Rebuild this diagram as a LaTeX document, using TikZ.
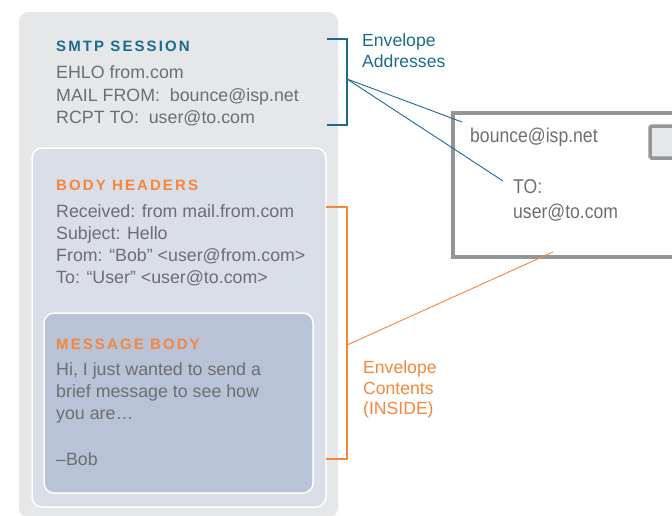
\documentclass[tikz,border=0pt]{standalone}
\usepackage{fontspec}
\setmainfont{Liberation Sans}
\newfontfamily\condfont[FakeStretch=0.88]{Liberation Sans}
\definecolor{outergray}{HTML}{E6E7E8}
\definecolor{headerbg}{HTML}{DADEE8}
\definecolor{msgbg}{HTML}{B8C3D7}
\definecolor{textgray}{HTML}{6D6E71}
\definecolor{smtpblue}{HTML}{1B6B8F}
\definecolor{bodyorange}{HTML}{F5863A}
\definecolor{envgray}{HTML}{939598}
\tikzset{
  txt/.style={anchor=base west, inner sep=0pt, text=textgray, font=\fontsize{17.8}{21}\selectfont},
  heading/.style={anchor=base west, inner sep=0pt, font=\fontsize{15}{18}\selectfont\bfseries\addfontfeatures{LetterSpace=14}},
  envtxt/.style={anchor=base west, inner sep=0pt, text=textgray, font=\fontsize{20}{23}\condfont},
  note/.style={anchor=base west, inner sep=0pt, font=\fontsize{17.6}{20}\selectfont},
  bracket/.style={line width=1.8pt},
  leader/.style={line width=0.9pt},
}
\begin{document}
\begin{tikzpicture}[x=1pt,y=-1pt]
\useasboundingbox (0,0) rectangle (672,515);

% nested message boxes
\fill[outergray, rounded corners=10pt] (19,12) rectangle (338,518);
\filldraw[fill=headerbg, draw=white, line width=1.5pt, rounded corners=10pt] (32,148) rectangle (326,507);
\filldraw[fill=msgbg, draw=white, line width=1.5pt, rounded corners=10pt] (44,313) rectangle (313,493);

% SMTP session
\node[heading, text=smtpblue] (smtp) at (56,51) {SMTP SESSION};
\node[txt] (ehlo) at (56,78) {EHLO from.com};
\node[txt] (mailfrom) at (56,101) {MAIL FROM:\ \ bounce@isp.net};
\node[txt] (rcpt) at (56,123) {RCPT TO:\ \ user@to.com};

% body headers
\node[heading, text=bodyorange] (hdrs) at (56,190) {BODY HEADERS};
\node[txt] (recv) at (56,217) {Received: from mail.from.com};
\node[txt] (subj) at (56,239) {Subject: Hello};
\node[txt] (from) at (56,261) {From: “Bob” <user@from.com>};
\node[txt] (to) at (56,283) {To: “User” <user@to.com>};

% message body
\node[heading, text=bodyorange] (msg) at (56,349) {MESSAGE BODY};
\node[txt] (l1) at (56,375) {Hi, I just wanted to send a};
\node[txt] (l2) at (56,397) {brief message to see how};
\node[txt] (l3) at (56,419) {you are…};
\node[txt] (sig) at (56,465) {–Bob};

% envelope
\draw[envgray, line width=3.5pt] (680,113) -- (453,113) -- (453,257) -- (680,257);
\filldraw[fill=outergray, draw=envgray, line width=3.5pt, rounded corners=1.5pt] (680,126) -- (650,126) -- (650,158) -- (680,158);
\node[envtxt] (envfrom) at (470,142) {bounce@isp.net};
\node[envtxt] (envto) at (513,193) {TO:};
\node[envtxt] (envaddr) at (513,218) {user@to.com};

% envelope addresses bracket and leaders
\coordinate (bt1) at (327,39);
\coordinate (bt2) at (347,39);
\coordinate (bb2) at (347,125);
\coordinate (bb1) at (327,125);
\coordinate (bmid) at (347,79);
\coordinate (tfrom) at (462,122);
\coordinate (tto) at (503,181);
\draw[smtpblue, bracket] (bt1) -- (bt2) -- (bb2) -- (bb1);
\draw[smtpblue, leader] (bmid) -- (tfrom);
\draw[smtpblue, leader] (bmid) -- (tto);
\node[note, text=smtpblue] (ea1) at (362,46) {Envelope};
\node[note, text=smtpblue] (ea2) at (362,67) {Addresses};

% envelope contents bracket and leader
\coordinate (ot1) at (326,207);
\coordinate (ot2) at (347,207);
\coordinate (ob2) at (347,459);
\coordinate (ob1) at (326,459);
\coordinate (omid) at (347,345);
\coordinate (tenv) at (553,252);
\draw[bodyorange, bracket] (ot1) -- (ot2) -- (ob2) -- (ob1);
\draw[bodyorange, leader] (omid) -- (tenv);
\node[note, text=bodyorange] (ec1) at (363,373) {Envelope};
\node[note, text=bodyorange] (ec2) at (363,394) {Contents};
\node[note, text=bodyorange] (ec3) at (363,414) {(INSIDE)};
\end{tikzpicture}
\end{document}
